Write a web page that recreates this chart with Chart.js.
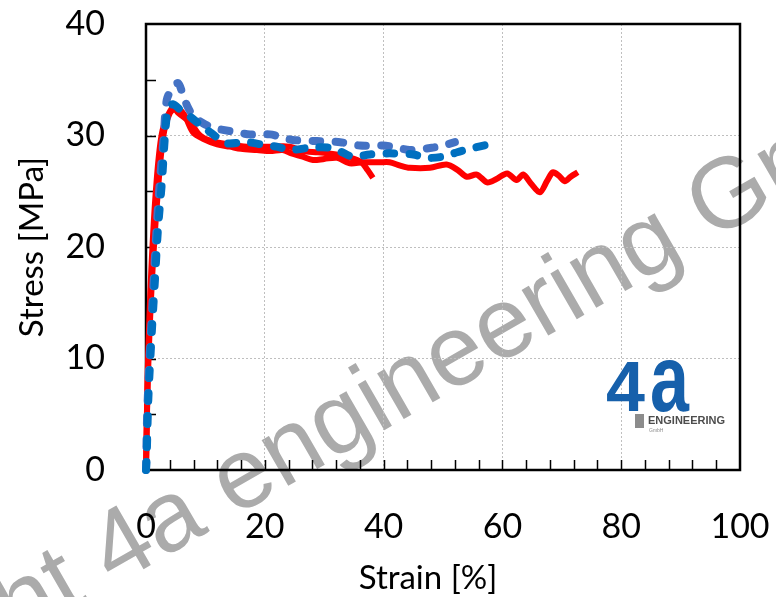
<!DOCTYPE html>
<html>
<head>
<meta charset="utf-8">
<script src="https://cdn.jsdelivr.net/npm/chart.js@4.4.1/dist/chart.umd.min.js"></script>
<style>
  html, body { margin: 0; padding: 0; background: #fff; }
</style>
</head>
<body>
<canvas id="stressGraph" width="776" height="597"></canvas>
<script>
    // values: strain [%] and stress [MPa]
    var redLongStrain = [0, 0.3, 1, 2, 2.9, 4, 5.2, 6.5, 7.9, 9.6, 12, 14.1, 16, 18.7, 20.9, 23, 24.5, 26.4, 28.1, 30, 32.2, 34.3, 36.5, 39.4, 41, 42.8, 44.4, 47.8, 50.6, 52.5, 54, 55.7, 57.4, 59, 60.8, 62.4, 63.5, 64.8, 66.3, 67.5, 68.5, 69.5, 70.5, 71.5, 72.7];
    var redLongStress = [0, 8, 17, 25, 29.9, 32, 32.5, 31.8, 30.3, 29.7, 29.2, 29.0, 28.8, 28.7, 28.6, 28.7, 28.4, 28.1, 27.8, 27.9, 28.0, 27.5, 27.6, 27.6, 27.6, 27.3, 27.1, 27.1, 27.4, 26.9, 26.3, 26.5, 25.8, 26.1, 26.6, 26.0, 26.5, 25.7, 24.9, 25.9, 26.7, 26.4, 25.9, 26.3, 26.7];

    var redShortStrain = [0, 0.3, 0.9, 1.8, 2.8, 4.5, 5.5, 7.4, 9.1, 11, 14, 17, 20.9, 24.2, 26.4, 29, 32, 34.5, 36.3, 37.3, 38.2];
    var redShortStress = [0, 9, 18, 26, 30.5, 32.5, 32, 31.2, 30.0, 29.5, 29.2, 29.0, 29.0, 29.0, 28.6, 28.5, 28.3, 28.0, 27.6, 26.9, 26.2];

    var blueLightStrain = [0, 0.2, 0.6, 1.1, 1.6, 2.2, 3, 3.5, 4.5, 5.4, 6.2, 6.9, 7.9, 9.6, 11.3, 14.1, 17.5, 20.9, 22.5, 24.7, 28.8, 32.7, 36, 39.9, 42.3, 44.4, 48.1, 50, 52];
    var blueLightStress = [0, 5, 10, 15, 20, 25, 30, 33.2, 34.3, 34.7, 33.7, 32.7, 31.8, 31.1, 30.7, 30.4, 30.1, 30.1, 29.9, 29.6, 29.5, 29.4, 29.1, 29.1, 28.9, 28.7, 28.9, 29.1, 29.4];

    var blueDarkStrain = [0, 0.1, 0.4, 1, 1.5, 2, 2.7, 3.2, 3.7, 4.5, 6.2, 7.4, 9, 10.3, 12, 13.6, 17, 20.4, 22, 24.2, 27.6, 31, 33, 34.8, 37.7, 41, 45, 47.3, 50, 52.4, 54.5, 57.6, 58.4];
    var blueDarkStress = [0, 1, 6.5, 12.6, 17, 21.5, 26, 30, 32.3, 32.8, 32.1, 31.7, 31, 30.5, 29.8, 29.3, 29.4, 29.1, 29.0, 28.7, 28.9, 28.9, 28.5, 28.1, 28.3, 28.4, 28.3, 28.0, 28.1, 28.5, 28.8, 29.2, 29.3];

    var xTicksMinor = [4, 8, 12, 16, 20, 24, 28, 32, 36, 40, 44, 48, 52, 56, 60, 64, 68, 72, 76, 80, 84, 88, 92, 96];
    var yTicksMinor = [5, 10, 15, 20, 25, 30, 35];

    function toPoints(xs, ys) {
        var pts = [];
        for (var i = 0; i < xs.length; i++) pts.push({x: xs[i], y: ys[i]});
        return pts;
    }

    var fontFam = 'Lato, "Liberation Sans", sans-serif';

    // watermark behind everything
    var watermark = {
        id: 'watermark',
        beforeDraw: function(chart) {
            var ctx = chart.ctx;
            ctx.save();
            ctx.fillStyle = '#ABABAB';
            ctx.font = '100px "Liberation Sans", Arial, sans-serif';
            ctx.translate(234, 517);
            ctx.rotate(-30 * Math.PI / 180);
            var prefix = 'Copyright 4a ';
            var pw = ctx.measureText(prefix).width;
            ctx.textBaseline = 'alphabetic';
            ctx.fillText(prefix + 'engineering GmbH', -pw, 0);
            ctx.restore();
        }
    };

    // frame, inside ticks, logo and x title
    var frameTicks = {
        id: 'frameTicks',
        beforeDatasetsDraw: function(chart) {
            var ctx = chart.ctx;
            var a = chart.chartArea;
            var xs = chart.scales.x, ys = chart.scales.y;
            ctx.save();

            // x axis title, sits a bit left of the plot centre
            ctx.fillStyle = '#000';
            ctx.font = '33px ' + fontFam;
            ctx.textAlign = 'center';
            ctx.textBaseline = 'middle';
            ctx.fillText('Strain [%]', 428, 578);
            ctx.textAlign = 'left';

            // logo
            ctx.fillStyle = '#1660AB';
            ctx.font = 'bold 70px "Liberation Sans", Arial, sans-serif';
            ctx.textBaseline = 'alphabetic';
            ctx.fillText('4', 606, 411);
            ctx.save();
            ctx.translate(650, 411);
            ctx.scale(1, 1.36);
            ctx.fillText('a', 0, 0);
            ctx.restore();
            ctx.fillStyle = '#8C8C8C';
            ctx.fillRect(635, 414, 9, 14);
            ctx.fillStyle = '#4D4D4D';
            ctx.font = 'bold 11px "Liberation Sans", Arial, sans-serif';
            ctx.fillText('ENGINEERING', 648, 424);
            ctx.fillStyle = '#8C8C8C';
            ctx.font = '5px "Liberation Sans", Arial, sans-serif';
            ctx.fillText('GmbH', 649, 432);

            ctx.strokeStyle = '#000';
            ctx.lineWidth = 1.5;
            ctx.beginPath();
            xTicksMinor.forEach(function(v) {
                var px = Math.round(xs.getPixelForValue(v)) + 0.5;
                ctx.moveTo(px, a.bottom);
                ctx.lineTo(px, a.bottom - 10);
            });
            yTicksMinor.forEach(function(v) {
                var py = Math.round(ys.getPixelForValue(v)) + 0.5;
                ctx.moveTo(a.left, py);
                ctx.lineTo(a.left + 10, py);
            });
            ctx.stroke();

            ctx.lineWidth = 2.5;
            ctx.strokeRect(a.left, a.top, a.right - a.left, a.bottom - a.top);
            ctx.restore();
        }
    };

    var stressConfig = {
        type: 'line',
        data: {
            datasets: [{
                data: toPoints(blueDarkStrain, blueDarkStress),
                borderColor: '#0070C0',
                borderWidth: 8,
                borderDash: [8, 15],
                borderCapStyle: 'round',
                pointRadius: 0,
                tension: 0.3,
                clip: false
            }, {
                data: toPoints(blueLightStrain, blueLightStress),
                borderColor: '#4472C4',
                borderWidth: 8,
                borderDash: [8, 15],
                borderCapStyle: 'round',
                pointRadius: 0,
                tension: 0.3,
                clip: false
            }, {
                data: toPoints(redShortStrain, redShortStress),
                borderColor: '#FF0000',
                borderWidth: 6,
                pointRadius: 0,
                tension: 0.3,
                clip: false
            }, {
                data: toPoints(redLongStrain, redLongStress),
                borderColor: '#FF0000',
                borderWidth: 6,
                pointRadius: 0,
                tension: 0.3,
                clip: false
            }]
        },
        options: {
            responsive: false,
            animation: false,
            devicePixelRatio: 1,
            layout: { padding: { left: 0, top: 24, right: 36, bottom: 0 } },
            plugins: {
                legend: { display: false },
                tooltip: { enabled: false }
            },
            scales: {
                x: {
                    type: 'linear',
                    min: 0,
                    max: 100,
                    ticks: { stepSize: 20, padding: 37, color: '#000', font: { family: fontFam, size: 34 } },
                    grid: { drawTicks: false, color: '#BFBFBF', lineWidth: 1 },
                    border: { display: false, dash: [2, 2] },
                    title: { display: false },
                    afterFit: function(scale) {
                        scale.height = 127;
                        scale.paddingLeft = 0;
                        scale.paddingRight = 0;
                    }
                },
                y: {
                    type: 'linear',
                    min: 0,
                    max: 40,
                    ticks: { stepSize: 10, padding: 41, color: '#000', font: { family: fontFam, size: 34 } },
                    grid: { drawTicks: false, color: '#BFBFBF', lineWidth: 1 },
                    border: { display: false, dash: [2, 2] },
                    title: { display: true, text: 'Stress [MPa]', color: '#000', font: { family: fontFam, size: 33 }, padding: { top: 13, bottom: 0 } },
                    afterFit: function(scale) {
                        scale.width = 146;
                        scale.paddingTop = 0;
                        scale.paddingBottom = 0;
                    }
                }
            }
        },
        plugins: [watermark, frameTicks]
    };

    var stressCtx = document.getElementById('stressGraph');
    var stressChart = new Chart(stressCtx, stressConfig);
</script>
</body>
</html>
